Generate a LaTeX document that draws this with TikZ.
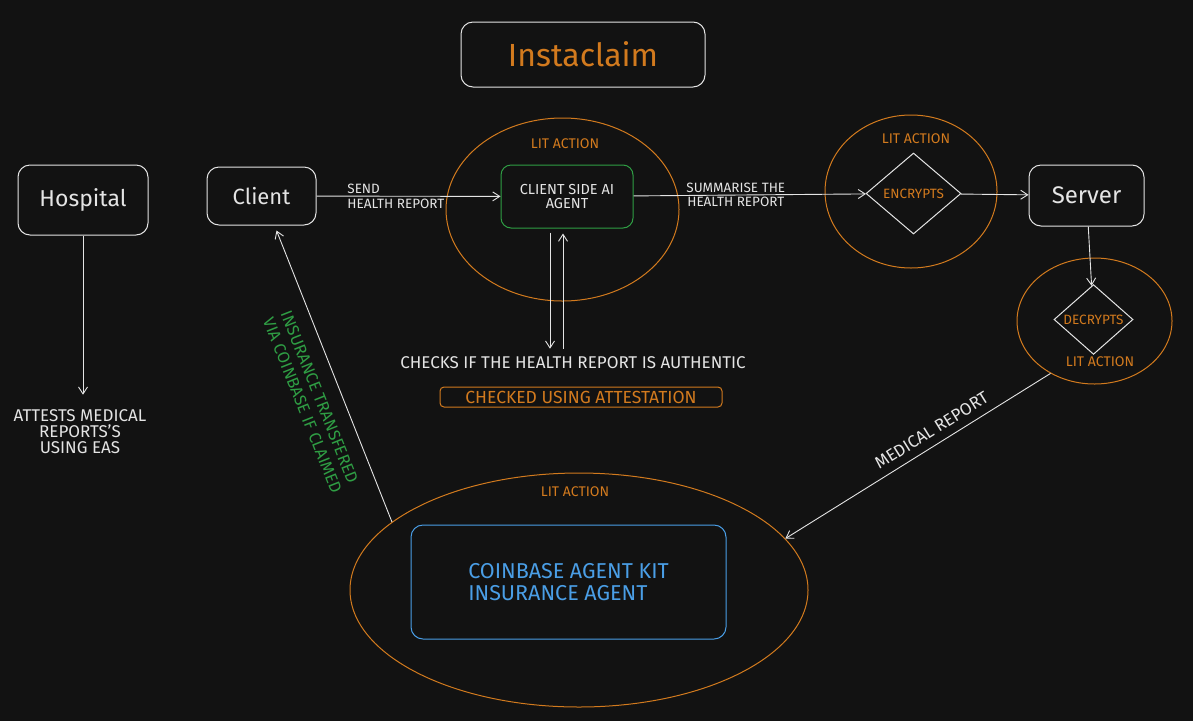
\documentclass[tikz,border=0pt]{standalone}
\usepackage{fontspec}
\setmainfont{Fira Sans}
\usetikzlibrary{arrows.meta, positioning, shapes.geometric}
\definecolor{bg}{HTML}{121212}
\definecolor{ink}{HTML}{E4E4E4}
\definecolor{litorange}{HTML}{D27A1E}
\definecolor{agentgreen}{HTML}{2F9E44}
\definecolor{kitblue}{HTML}{4A9EE6}

\begin{document}
\begin{tikzpicture}[
  x=1pt, y=-1pt,
  box/.style={draw=ink, rectangle, rounded corners=12pt, line width=1pt, text=ink, align=center, inner sep=0pt, font=\fontsize{23}{25}\selectfont},
  lit/.style={draw=litorange, ellipse, line width=1pt, inner sep=0pt},
  gate/.style={draw=ink, diamond, line width=1pt, inner sep=0pt, text=litorange, font=\fontsize{13.5}{15}\selectfont},
  note/.style={text=ink, align=center, inner sep=1pt, font=\fontsize{13.5}{14.5}\selectfont},
  tag/.style={text=litorange, inner sep=1pt, font=\fontsize{14}{15}\selectfont},
  arrow/.style={-{Straight Barb[length=7pt, width=9pt]}, draw=ink, line width=0.9pt}
]

% background
\fill[bg] (0,0) rectangle (1193,721);

% Title
\node[box, minimum width=244pt, minimum height=65pt, text=litorange, font=\fontsize{32}{34}\selectfont] (Title) at (583,54.5) {Instaclaim};

% Row 1: Hospital, Client
\node[box, minimum width=130pt, minimum height=70pt] (Hospital) at (83,200) {Hospital};
\node[box, minimum width=109pt, minimum height=58pt, right=58pt of Hospital, yshift=4pt, font=\fontsize{22}{24}\selectfont] (Client) {Client};
\node[note, font=\fontsize{17}{16}\selectfont] (Attests) at (80,432) {ATTESTS MEDICAL\\REPORTS'S\\USING EAS};

% Lit action round the client side agent
\node[lit, minimum width=233pt, minimum height=183pt] (LitAgent) at (562.5,209.5) {};
\node[box, draw=agentgreen, rounded corners=10pt, minimum width=132pt, minimum height=63pt, font=\fontsize{14.5}{14.5}\selectfont] (Agent) at (567,196.5) {CLIENT SIDE AI\\AGENT};
\node[tag] (LitAgentTag) at (565,144) {LIT ACTION};

% Lit action: encrypts
\node[lit, minimum width=172pt, minimum height=153pt] (LitEnc) at (911,191.5) {};
\node[gate, minimum width=95pt, minimum height=81pt] (Encrypts) at (913.5,193.5) {ENCRYPTS};
\node[tag] (LitEncTag) at (916,139) {LIT ACTION};

% Server
\node[box, minimum width=115pt, minimum height=61pt, font=\fontsize{24}{26}\selectfont] (Server) at (1086.5,195.5) {Server};

% Lit action: decrypts
\node[lit, minimum width=155pt, minimum height=126pt] (LitDec) at (1094.5,321) {};
\node[gate, minimum width=79pt, minimum height=69pt] (Decrypts) at (1093.5,319.5) {DECRYPTS};
\node[tag] (LitDecTag) at (1100,362) {LIT ACTION};

% Attestation check
\node[note, font=\fontsize{17}{18}\selectfont] (Checks) at (573,363) {CHECKS IF THE HEALTH REPORT IS AUTHENTIC};
\node[draw=litorange, rounded corners=4pt, line width=1pt, minimum width=282pt, minimum height=20pt, inner sep=0pt, text=litorange, font=\fontsize{17.5}{18}\selectfont] (Attest) at (581,397) {CHECKED USING ATTESTATION};

% Lit action: coinbase agent kit
\node[lit, minimum width=458pt, minimum height=234pt] (LitKit) at (579,590) {};
\node[box, draw=kitblue, text=kitblue, align=left, minimum width=315pt, minimum height=114pt, font=\fontsize{21.5}{22}\selectfont] (Kit) at (568.5,582) {COINBASE AGENT KIT\\INSURANCE AGENT};
\node[tag] (LitKitTag) at (575,492) {LIT ACTION};

% Arrows
\draw[arrow, shorten >=14pt] (Hospital) -- (Hospital.south |- Attests.north);
\draw[arrow] (Client) -- node[note, pos=0.16, anchor=west, align=left] {SEND\\HEALTH REPORT} (Agent);
\draw[arrow] (Agent) -- node[note, pos=0.44] {SUMMARISE THE\\HEALTH REPORT} (Encrypts);
\draw[arrow] (Encrypts) -- (Server);
\draw[arrow] (Server) -- (Decrypts);
\draw[arrow] ([xshift=-17pt, yshift=-4pt]Agent.south) -- ([xshift=-17pt, yshift=7pt]Agent.south |- Checks.north);
\draw[arrow] ([xshift=-4pt, yshift=7pt]Agent.south |- Checks.north) -- ([xshift=-4pt, yshift=-5pt]Agent.south);
\draw[arrow] (LitDec.230) -- node[note, sloped, above=7pt, pos=0.42, font=\fontsize{17}{18}\selectfont] {MEDICAL REPORT} (LitKit.14);
\draw[arrow] (LitKit.160) -- node[note, sloped, below=14pt, pos=0.45, align=left, text=agentgreen, font=\fontsize{16.5}{19}\selectfont] {INSURANCE TRANSFERED\\VIA COINBASE IF CLAIMED} ([xshift=15pt, yshift=-5pt]Client.south);

\end{tikzpicture}
\end{document}
